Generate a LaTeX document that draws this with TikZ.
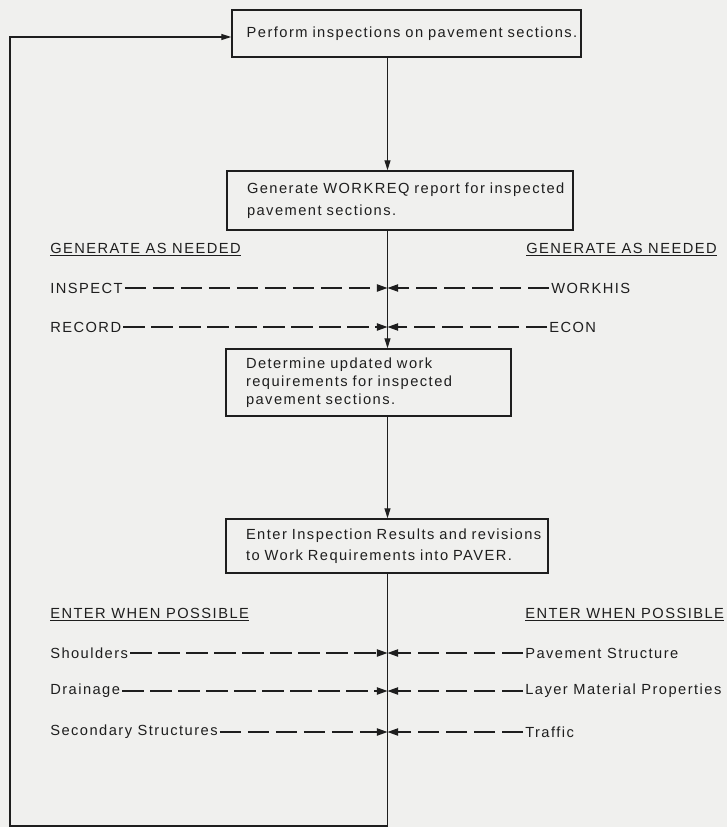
\documentclass[tikz,border=0pt]{standalone}
\usepackage{fontspec}
\setmainfont[LetterSpace=10]{Liberation Sans}
\usetikzlibrary{arrows.meta}
\definecolor{bg}{RGB}{240,240,238}
\definecolor{ink}{RGB}{30,30,30}
\begin{document}
\begin{tikzpicture}[x=0.75pt,y=-0.75pt,
  every node/.style={text=ink},
  box/.style={draw=ink, line width=1.1pt, align=left, inner xsep=15pt, inner ysep=0pt},
  lbl/.style={anchor=west, inner xsep=1.5pt, inner ysep=1pt, font=\fontsize{11}{13}\selectfont},
  flow/.style={draw=ink, line width=1pt, -{Triangle[length=7.5pt,width=4.5pt]}},
  dflow/.style={draw=ink, line width=1pt, dash pattern=on 16pt off 5pt, -{Triangle[length=8pt,width=5.5pt]}}]
\fill[bg] (0,0) rectangle (727,827);
\useasboundingbox (0,0) rectangle (727,827);
\coordinate (mx) at (387.5,0);
% boxes
\node[box, inner xsep=11pt, text width=239.75pt, minimum height=35.25pt,
      font=\fontsize{11}{16.5}\selectfont] (b1) at (406.5,33.5)
  {\mbox{Perform inspections on pavement sections.}};
\node[box, text width=229.5pt, minimum height=44.25pt,
      font=\fontsize{11}{16.5}\selectfont] (b2) at (400,200.5)
  {\mbox{Generate WORKREQ report for inspected}\\ pavement sections.};
\node[box, text width=183.75pt, minimum height=50.25pt,
      font=\fontsize{11}{13.5}\selectfont] (b3) at (368.5,382.5)
  {Determine updated work\\ requirements for inspected\\ pavement sections.};
\node[box, text width=211.5pt, minimum height=40.5pt,
      font=\fontsize{11}{15.75}\selectfont] (b4) at (387,546)
  {\mbox{Enter Inspection Results and revisions}\\ to Work Requirements into PAVER.};
% main flow
\draw[flow] (b1.south -| mx) -- (b2.north -| mx);
\draw[flow] (b2.south -| mx) -- (b3.north -| mx);
\draw[flow] (b3.south -| mx) -- (b4.north -| mx);
\coordinate (fb) at (10,37);
\coordinate (bl) at (10,826);
\draw[flow] (b4.south -| mx) -- (bl -| mx) -- (bl) -- (fb) -- (b1.west |- fb);
% generate as needed
\node[lbl] (gl) at (48,250) {\underline{GENERATE AS NEEDED}};
\node[lbl] (gr) at (524,250) {\underline{GENERATE AS NEEDED}};
\node[lbl] (inspect) at (48,288) {INSPECT};
\node[lbl] (workhis) at (549,288) {WORKHIS};
\node[lbl] (record) at (48,327) {RECORD};
\node[lbl] (econ) at (547,327) {ECON};
\coordinate (r1) at (387.5,288);
\coordinate (r2) at (387.5,327);
\draw[dflow] (inspect.east) -- (r1);
\draw[dflow] (workhis.west) -- (r1);
\draw[dflow] (record.east) -- (r2);
\draw[dflow] (econ.west) -- (r2);
% enter when possible
\node[lbl] (el) at (48,615) {\underline{ENTER WHEN POSSIBLE}};
\node[lbl] (er) at (523,615) {\underline{ENTER WHEN POSSIBLE}};
\node[lbl] (sh) at (48,653) {Shoulders};
\node[lbl] (ps) at (523,653) {Pavement Structure};
\node[lbl] (dr) at (48,691) {Drainage};
\node[lbl] (lm) at (523,691) {Layer Material Properties};
\node[lbl] (ss) at (48,732) {Secondary Structures};
\node[lbl] (tr) at (523,732) {Traffic};
\coordinate (s1) at (387.5,653);
\coordinate (s2) at (387.5,691);
\coordinate (s3) at (387.5,732);
\draw[dflow] (sh.east) -- (s1);
\draw[dflow] (ps.west) -- (s1);
\draw[dflow] (dr.east) -- (s2);
\draw[dflow] (lm.west) -- (s2);
\draw[dflow] (ss.east) -- (s3);
\draw[dflow] (tr.west) -- (s3);
\end{tikzpicture}
\end{document}
